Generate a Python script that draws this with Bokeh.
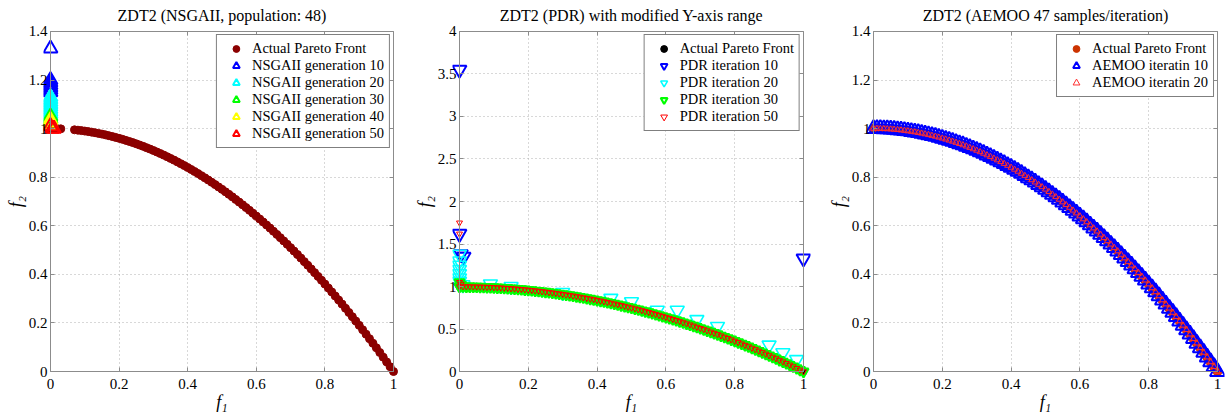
from bokeh.plotting import figure
from bokeh.layouts import row
from bokeh.models import (Range1d, FixedTicker, NumeralTickFormatter, LinearAxis,
                          Grid, Legend, LegendItem)
from bokeh.embed import file_html
from bokeh.resources import INLINE

FONT = "Liberation Serif"
AXIS_COLOR = "#8c8c8c"

# ---------------- data ----------------
X_TICKS = [0, 0.2, 0.4, 0.6, 0.8, 1.0]
Y_TICKS_A = [0, 0.2, 0.4, 0.6, 0.8, 1.0, 1.2, 1.4]
Y_TICKS_B = [0, 0.5, 1, 1.5, 2, 2.5, 3, 3.5, 4]

# actual Pareto front points (read along the drawn front)
PF_F1 = [0.00, 0.01, 0.02, 0.03, 0.04, 0.05, 0.06, 0.07, 0.08, 0.09,
         0.10, 0.11, 0.12, 0.13, 0.14, 0.15, 0.16, 0.17, 0.18, 0.19,
         0.20, 0.21, 0.22, 0.23, 0.24, 0.25, 0.26, 0.27, 0.28, 0.29,
         0.30, 0.31, 0.32, 0.33, 0.34, 0.35, 0.36, 0.37, 0.38, 0.39,
         0.40, 0.41, 0.42, 0.43, 0.44, 0.45, 0.46, 0.47, 0.48, 0.49,
         0.50, 0.51, 0.52, 0.53, 0.54, 0.55, 0.56, 0.57, 0.58, 0.59,
         0.60, 0.61, 0.62, 0.63, 0.64, 0.65, 0.66, 0.67, 0.68, 0.69,
         0.70, 0.71, 0.72, 0.73, 0.74, 0.75, 0.76, 0.77, 0.78, 0.79,
         0.80, 0.81, 0.82, 0.83, 0.84, 0.85, 0.86, 0.87, 0.88, 0.89,
         0.90, 0.91, 0.92, 0.93, 0.94, 0.95, 0.96, 0.97, 0.98, 0.99, 1.00]
PF_F2 = [1.0, 0.9999, 0.9996, 0.9991, 0.9984, 0.9975, 0.9964, 0.9951, 0.9936, 0.9919,
         0.99, 0.9879, 0.9856, 0.9831, 0.9804, 0.9775, 0.9744, 0.9711, 0.9676, 0.9639,
         0.96, 0.9559, 0.9516, 0.9471, 0.9424, 0.9375, 0.9324, 0.9271, 0.9216, 0.9159,
         0.91, 0.9039, 0.8976, 0.8911, 0.8844, 0.8775, 0.8704, 0.8631, 0.8556, 0.8479,
         0.84, 0.8319, 0.8236, 0.8151, 0.8064, 0.7975, 0.7884, 0.7791, 0.7696, 0.7599,
         0.75, 0.7399, 0.7296, 0.7191, 0.7084, 0.6975, 0.6864, 0.6751, 0.6636, 0.6519,
         0.64, 0.6279, 0.6156, 0.6031, 0.5904, 0.5775, 0.5644, 0.5511, 0.5376, 0.5239,
         0.51, 0.4959, 0.4816, 0.4671, 0.4524, 0.4375, 0.4224, 0.4071, 0.3916, 0.3759,
         0.36, 0.3439, 0.3276, 0.3111, 0.2944, 0.2775, 0.2604, 0.2431, 0.2256, 0.2079,
         0.19, 0.1719, 0.1536, 0.1351, 0.1164, 0.0975, 0.0784, 0.0591, 0.0396, 0.0199, 0.0]

# NSGAII panel
NSGA_FRONT_GAP = [0.04, 0.05, 0.06]   # front points missing in the first panel
nsga10_f1 = [0, 0, 0, 0, 0, 0, 0]
nsga10_f2 = [1.33, 1.20, 1.19, 1.18, 1.17, 1.16, 1.15]
nsga20_f1 = [0, 0, 0, 0, 0, 0, 0, 0]
nsga20_f2 = [1.13, 1.12, 1.11, 1.10, 1.09, 1.08, 1.07, 1.06]
nsga30_f1 = [0, 0, 0]
nsga30_f2 = [1.05, 1.04, 1.03]
nsga40_f1 = [0, 0, 0]
nsga40_f2 = [1.035, 1.025, 1.015]
nsga50_f1 = [0, 0.005, 0.01]
nsga50_f2 = [1.01, 1.0, 1.0]

# PDR panel
pdr10_f1 = [0, 0, 0.004, 0.012, 1.0]
pdr10_f2 = [3.55, 1.62, 1.38, 1.35, 1.33]
pdr20_f1 = [0, 0, 0, 0, 0, 0, 0, 0.01, 0.09, 0.15, 0.30, 0.44, 0.50, 0.575, 0.633,
            0.69, 0.75, 0.90, 0.94, 0.98]
pdr20_f2 = [1.38, 1.30, 1.25, 1.20, 1.15, 1.10, 1.06, 1.02, 1.03, 1.0, 0.93, 0.86, 0.82, 0.72, 0.72,
            0.61, 0.53, 0.31, 0.22, 0.14]
pdr30_extra_f1 = [0, 0, 0.005]
pdr30_extra_f2 = [1.05, 1.0, 1.02]
pdr50_extra_f1 = [0, 0, 0, 0.005]
pdr50_extra_f2 = [1.75, 1.62, 1.05, 1.03]

# ---------------- helpers ----------------
fmt = NumeralTickFormatter(format="0.[0]")
PAD = 7


def make_panel(title, fig_w, x0, x1, yt, yb, ymax, yticks):
    fw = x1 - x0
    fh = yb - yt
    ex = PAD / fw
    ey = PAD * ymax / fh
    p = figure(width=fig_w, height=414,
               x_range=Range1d(-ex, 1 + ex), y_range=Range1d(-ey, ymax + ey),
               x_axis_type=None, y_axis_type=None,
               output_backend="svg", toolbar_location=None,
               min_border_left=x0 - PAD, min_border_right=fig_w - x1 - PAD,
               min_border_top=yt - PAD, min_border_bottom=414 - yb - PAD,
               title=title)
    p.outline_line_color = None
    p.background_fill_color = "white"
    p.border_fill_color = "white"
    p.title.text_font = FONT
    p.title.text_font_size = "16px"
    p.title.text_font_style = "normal"
    p.title.align = "center"
    p.title.standoff = 2
    p.title.text_color = "black"

    for dim, ticks, cb in ((0, X_TICKS, (0, ymax)), (1, yticks, (0, 1))):
        g = Grid(dimension=dim, ticker=FixedTicker(ticks=ticks))
        g.grid_line_color = "#b0b0b0"
        g.grid_line_dash = "1 3"
        g.grid_line_width = 1
        if "cross_bounds" in g.properties():
            g.cross_bounds = cb
        p.add_layout(g)

    # box lines + inward ticks, placed at the data limits
    def box_axis(side, loc, ticks, bounds):
        a = LinearAxis(ticker=FixedTicker(ticks=ticks), formatter=fmt,
                       fixed_location=loc, bounds=bounds)
        a.axis_line_color = AXIS_COLOR
        a.axis_line_width = 1
        a.major_tick_line_color = AXIS_COLOR
        a.major_tick_in = 4
        a.major_tick_out = 0
        a.minor_tick_line_color = None
        a.major_label_text_color = None
        p.add_layout(a, side)

    box_axis("below", 0, X_TICKS, (0, 1))
    box_axis("left", 0, yticks, (0, ymax))
    box_axis("above", ymax, X_TICKS, (0, 1))
    box_axis("right", 1, yticks, (0, ymax))

    # tick labels and axis titles
    def label_axis(side, ticks, label, standoff, label_standoff):
        a = LinearAxis(ticker=FixedTicker(ticks=ticks), formatter=fmt)
        a.axis_line_color = None
        a.major_tick_line_color = None
        a.minor_tick_line_color = None
        a.major_tick_in = 0
        a.major_tick_out = 0
        a.major_label_text_font = FONT
        a.major_label_text_font_size = "15px"
        a.major_label_text_color = "black"
        a.major_label_standoff = standoff
        a.axis_label = label
        a.axis_label_text_font = FONT
        a.axis_label_text_font_size = "18px"
        a.axis_label_text_font_style = "italic"
        a.axis_label_text_color = "black"
        a.axis_label_standoff = label_standoff
        p.add_layout(a, side)

    label_axis("below", X_TICKS, "f\u2081", 0, 0)
    label_axis("left", yticks, "f\u2082", -4, 0)
    return p


def add_legend(p, items, margin):
    leg = Legend(items=[LegendItem(label=l, renderers=[r]) for l, r in items],
                 location="top_right", margin=margin,
                 border_line_color="black", border_line_width=1,
                 background_fill_color="white", background_fill_alpha=1,
                 label_text_font=FONT, label_text_font_size="14.5px",
                 label_text_color="black",
                 padding=5, spacing=0, glyph_width=28, glyph_height=17,
                 label_height=16, label_standoff=2)
    p.add_layout(leg)


# ---------------- panel 1: NSGAII ----------------
p1 = make_panel("ZDT2 (NSGAII, population: 48)", 410, 50, 393, 31, 372, 1.4, Y_TICKS_A)
f1_a = [x for x in PF_F1 if x not in NSGA_FRONT_GAP]
f2_a = [y for x, y in zip(PF_F1, PF_F2) if x not in NSGA_FRONT_GAP]
DARKRED = "#8b0000"
ra = p1.scatter(f1_a, f2_a, marker="circle", size=8, fill_color=DARKRED, line_color=DARKRED)
tri = dict(marker="triangle", size=14, fill_color=None, line_width=2)
rb = p1.scatter(nsga10_f1, nsga10_f2, line_color="#0000ff", **tri)
rc = p1.scatter(nsga20_f1, nsga20_f2, line_color="#00ffff", **tri)
rd = p1.scatter(nsga30_f1, nsga30_f2, line_color="#00ff00", **tri)
re = p1.scatter(nsga40_f1, nsga40_f2, line_color="#ffff00", **tri)
rf = p1.scatter(nsga50_f1, nsga50_f2, line_color="#ff0000", **tri)
add_legend(p1, [("Actual Pareto Front", ra), ("NSGAII generation 10", rb),
                ("NSGAII generation 20", rc), ("NSGAII generation 30", rd),
                ("NSGAII generation 40", re), ("NSGAII generation 50", rf)], 10)

# ---------------- panel 2: PDR ----------------
p2 = make_panel("ZDT2 (PDR) with modified Y-axis range", 410, 49, 393, 29, 372, 4, Y_TICKS_B)
qa = p2.scatter(PF_F1, PF_F2, marker="circle", size=7, fill_color="black", line_color="black")
qb = p2.scatter(pdr10_f1, pdr10_f2, marker="inverted_triangle", size=14, fill_color=None,
                line_color="#0000ff", line_width=2)
qc = p2.scatter(pdr20_f1, pdr20_f2, marker="inverted_triangle", size=14, fill_color=None,
                line_color="#00ffff", line_width=1.6)
qd = p2.scatter(PF_F1 + pdr30_extra_f1, PF_F2 + pdr30_extra_f2, marker="inverted_triangle",
                size=10, fill_color=None, line_color="#00ff00", line_width=2.2)
qe = p2.scatter(PF_F1 + pdr50_extra_f1, PF_F2 + pdr50_extra_f2, marker="inverted_triangle",
                size=6, fill_color=None, line_color="#ff0000", line_width=1)
add_legend(p2, [("Actual Pareto Front", qa), ("PDR iteration 10", qb),
                ("PDR iteration 20", qc), ("PDR iteration 30", qd),
                ("PDR iteration 50", qe)], 10)

# ---------------- panel 3: AEMOO ----------------
p3 = make_panel("ZDT2 (AEMOO 47 samples/iteration)", 406, 53, 397, 29, 373, 1.4, Y_TICKS_A)
ORANGE = "#cc3300"
sa = p3.scatter(PF_F1, PF_F2, marker="circle", size=9, fill_color=ORANGE, line_color=ORANGE)
sb = p3.scatter(PF_F1, PF_F2, marker="triangle", size=15, fill_color=None,
                line_color="#0000ff", line_width=2)
sc = p3.scatter(PF_F1, PF_F2, marker="triangle", size=6, fill_color=None,
                line_color="#ff3030", line_width=1)
add_legend(p3, [("Actual Pareto Front", sa), ("AEMOO iteratin 10", sb),
                ("AEMOO iteratin 20", sc)], 10)

layout = row(p1, p2, p3)
open("out.html", "w").write(file_html(layout, INLINE))
